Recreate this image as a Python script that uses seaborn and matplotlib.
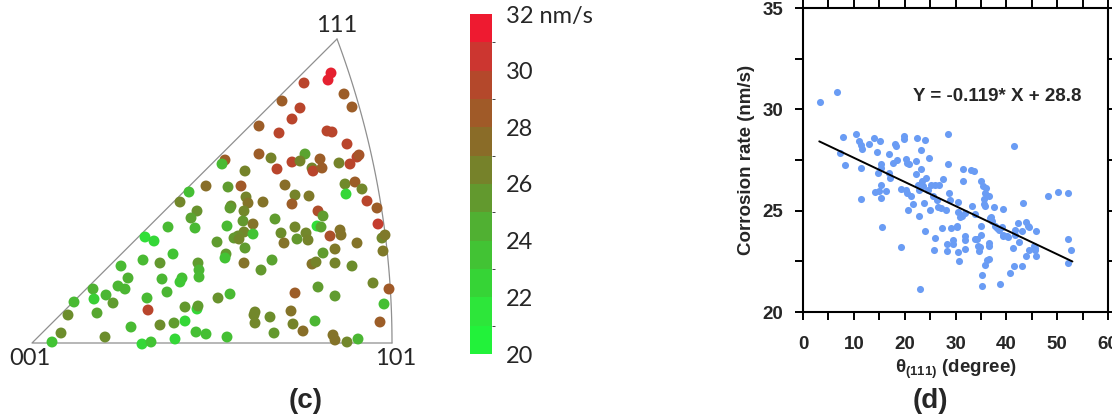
import numpy as np
import seaborn as sns
import matplotlib.pyplot as plt
import matplotlib.ticker as ticker
from matplotlib.colors import ListedColormap, LinearSegmentedColormap, BoundaryNorm
from matplotlib.cm import ScalarMappable

# (c) inverse pole figure: dot position (pixels from the 001 corner) and corrosion rate (nm/s)
ipf_x = [299, 296, 272, 312, 320, 250, 268, 260, 227, 247, 295, 300, 315, 193, 190, 227, 239, 273,
         260, 268, 288, 245, 280, 281, 290, 307, 318, 325, 327, 213, 174, 196, 209, 253, 313, 323,
         314, 330, 157, 148, 165, 159, 163, 214, 216, 199, 198, 212, 231, 263, 277, 260, 335, 345,
         286, 291, 211, 221, 243, 136, 195, 346, 285, 289, 263, 249, 212, 221, 206, 202, 207, 252,
         265, 274, 276, 298, 308, 309, 325, 350, 353, 351, 113, 122, 185, 213, 194, 193, 141, 111,
         128, 166, 167, 167, 212, 240, 229, 291, 303, 280, 284, 303, 320, 89, 96, 86, 93, 130,
         150, 148, 135, 61, 62, 74, 81, 42, 65, 36, 29, 20, 115, 116, 73, 99, 110, 119,
         128, 142, 153, 153, 165, 166, 143, 164, 174, 186, 198, 195, 223, 222, 223, 238, 242, 263,
         259, 261, 271, 283, 286, 303, 301, 303, 315, 326, 341, 357, 352, 348]
ipf_y = [270, 263, 260, 249, 236, 242, 235, 224, 217, 210, 212, 211, 199, 183, 179, 189, 185, 189,
         181, 182, 184, 174, 175, 172, 175, 180, 179, 186, 188, 172, 157, 156, 157, 158, 159, 161,
         149, 154, 151, 141, 132, 125, 115, 146, 140, 137, 135, 132, 141, 148, 147, 139, 142, 135,
         132, 127, 122, 119, 124, 116, 117, 119, 117, 116, 116, 110, 111, 109, 107, 105, 104, 100,
         104, 110, 103, 107, 113, 108, 100, 105, 108, 92, 106, 102, 101, 95, 89, 85, 89, 83,
         80, 80, 73, 66, 80, 83, 73, 90, 94, 79, 81, 80, 77, 77, 65, 57, 54, 64,
         65, 61, 51, 54, 44, 48, 40, 41, 30, 28, 10, 1, 45, 33, 6, 16, -1, 1,
         18, 20, 36, 22, 34, 37, 4, 11, 9, 45, 49, 6, 31, 28, 20, 26, 10, 50,
         32, 19, 12, 22, 56, 47, 8, 3, 1, 4, 60, 54, 39, 21]
ipf_rate = [31.7, 31.7, 30.0, 28.5, 28.5, 28.5, 30.0, 30.0, 28.5, 30.0, 30.0, 30.0, 30.0, 28.5, 23.8, 28.5, 26.5, 25.0,
            30.0, 26.5, 28.5, 30.0, 26.5, 30.0, 28.5, 26.5, 30.0, 30.0, 29.0, 26.5, 27.5, 25.3, 28.8, 27.5, 26.2, 28.5,
            22.0, 26.3, 23.5, 26.3, 25.8, 25.0, 23.8, 26.5, 27.3, 26.0, 25.3, 26.3, 27.3, 26.5, 27.0, 28.5, 30.0, 28.5,
            29.5, 25.3, 25.5, 27.3, 25.3, 23.8, 23.8, 30.5, 21.5, 25.0, 26.3, 26.0, 26.3, 23.3, 26.0, 25.5, 26.3, 27.3,
            25.5, 26.3, 26.5, 29.3, 27.3, 27.3, 27.3, 26.3, 27.0, 27.0, 21.5, 22.0, 25.3, 25.3, 25.3, 23.3, 23.3, 23.8,
            25.5, 25.3, 24.0, 23.8, 27.3, 25.0, 25.5, 25.3, 27.0, 27.3, 26.5, 26.5, 26.0, 23.8, 24.3, 24.0, 24.0, 24.0,
            23.5, 23.0, 24.0, 24.3, 22.5, 24.0, 25.3, 23.8, 24.8, 26.0, 26.0, 23.3, 23.8, 30.0, 26.0, 23.8, 22.0, 23.3,
            26.0, 25.3, 25.5, 22.0, 22.0, 25.3, 22.0, 23.5, 23.5, 25.8, 23.8, 23.5, 26.3, 26.3, 26.3, 26.0, 25.5, 28.5,
            27.3, 26.5, 27.5, 24.0, 25.3, 25.3, 27.3, 27.3, 26.3, 24.0, 26.3, 28.7, 23.5, 28.5]

# triangle corners (pixels from the 001 corner)
v101 = (360, 0)
v111 = (305, 304)

# colour bar
cbar_ticks = [20, 22, 24, 26, 28, 30, 32]
cbar_labels = ['20', '22', '24', '26', '28', '30', '32 nm/s']
band_colors = ['#22f23a', '#2de63a', '#36d436', '#42c334', '#50b032', '#62992e',
               '#76822a', '#8a6c28', '#a05a28', '#b4482b', '#cc3630', '#ee1a30']

# (d) corrosion rate vs angle to <111>
theta = [3.3, 6.7, 7.8, 7.3, 8.3, 10.5, 11.1, 11.4, 11.7, 11.5, 11.5, 12.9, 14.0, 15.1, 14.5, 14.7,
         15.4, 15.4, 14.2, 14.9, 15.4, 15.4, 15.6, 16.3, 17.0, 17.0, 17.1, 17.7, 18.1, 18.3, 18.5, 19.3,
         19.8, 19.9, 19.3, 20.2, 20.3, 20.4, 20.5, 20.6, 20.9, 21.2, 21.6, 22.2, 22.3, 22.4, 22.9, 23.0,
         22.6, 22.8, 23.2, 23.3, 23.4, 23.6, 24.0, 23.8, 24.0, 24.2, 24.5, 24.8, 25.0, 25.2, 25.5, 25.7,
         26.0, 26.0, 26.3, 26.5, 26.8, 27.2, 27.4, 27.6, 28.1, 28.3, 28.3, 28.5, 28.6, 28.8, 28.9, 29.1,
         29.6, 30.2, 30.4, 30.4, 30.5, 30.6, 30.9, 31.3, 31.5, 31.5, 31.9, 31.9, 31.9, 33.0, 33.3, 33.6,
         33.8, 34.3, 34.5, 34.8, 35.0, 35.1, 35.1, 35.2, 35.2, 35.5, 35.6, 35.7, 35.9, 35.9, 35.9, 36.5,
         36.5, 36.5, 36.6, 36.8, 37.1, 37.6, 37.8, 38.2, 38.6, 38.7, 39.3, 39.3, 39.4, 40.2, 40.8, 41.4,
         41.5, 41.7, 41.7, 42.2, 42.4, 43.0, 43.2, 43.0, 43.9, 43.9, 44.3, 44.5, 45.4, 45.6, 45.8, 45.8,
         48.2, 50.2, 52.2, 52.2, 52.2, 52.8, 41.6, 36.0, 33.9, 37.0, 39.1, 40.4, 44.4, 45.7, 36.1, 34.7,
         31.8, 29.5, 30.2]
rate = [30.35, 30.84, 28.62, 27.85, 27.27, 28.78, 28.42, 28.22, 28.04, 27.10, 25.58, 28.31, 28.59, 28.42, 27.88, 26.86,
        27.30, 27.10, 25.90, 25.95, 26.27, 25.64, 24.19, 25.95, 27.81, 26.86, 26.61, 27.35, 28.31, 28.17, 27.52, 26.07,
        28.54, 28.70, 23.20, 26.04, 27.57, 27.35, 25.87, 25.02, 27.30, 25.70, 25.35, 27.47, 26.81, 28.57, 24.75, 21.13,
        26.28, 26.04, 27.98, 27.06, 26.45, 26.20, 28.47, 25.38, 23.98, 26.61, 26.00, 27.60, 25.02, 26.28, 25.71, 23.08,
        23.63, 26.28, 25.54, 25.16, 26.28, 25.13, 24.13, 26.56, 25.02, 23.36, 23.00, 28.80, 27.30, 25.87, 25.54, 24.15,
        23.54, 24.23, 25.41, 24.92, 22.94, 22.53, 24.69, 24.75, 27.06, 26.45, 24.88, 23.77, 23.11, 27.02, 25.21, 26.94,
        23.60, 23.60, 23.24, 23.21, 26.45, 24.23, 23.82, 21.84, 21.30, 26.23, 25.58, 25.35, 25.87, 25.25, 22.34, 23.28,
        23.40, 22.62, 25.74, 24.64, 24.47, 25.18, 24.23, 24.14, 24.03, 21.40, 25.08, 23.82, 23.73, 23.73, 21.92, 23.16,
        22.29, 24.07, 23.82, 24.39, 23.44, 24.00, 25.38, 22.29, 24.43, 22.75, 24.23, 23.04, 23.24, 23.04, 23.98, 22.78,
        25.74, 25.90, 25.87, 23.60, 22.42, 23.08, 28.19, 26.14, 24.84, 24.70, 24.21, 23.72, 24.20, 23.15, 22.59, 23.00,
        23.54, 23.35, 24.20]
fit_slope = -0.119
fit_icpt = 28.8
fit_x = np.array([3.2, 53.0])
fit_text = 'Y = -0.119* X + 28.8'

sns.set_style('ticks')
plt.rcParams['font.family'] = ['Liberation Sans', 'DejaVu Sans']
plt.rcParams['font.weight'] = 'bold'
plt.rcParams['mathtext.fontset'] = 'custom'
plt.rcParams['mathtext.rm'] = 'Liberation Sans:bold'
plt.rcParams['mathtext.bf'] = 'Liberation Sans:bold'

W, H = 1112, 419
fig = plt.figure(figsize=(W / 100, H / 100), dpi=100)


def px_box(l, t, r, b):
    # figure pixel box -> axes rect
    return [l / W, 1 - b / H, (r - l) / W, (b - t) / H]


# ---------- (c) inverse pole figure ----------
ax_c = fig.add_axes(px_box(0, 0, 430, 419))
ax_c.set_xlim(-32, 398)
ax_c.set_ylim(-76, 343)
ax_c.axis('off')

# arc 101-111 (circle centred on the 001-101 line)
cx = (v111[0] ** 2 + v111[1] ** 2 - v101[0] ** 2) / (2 * (v111[0] - v101[0]))
r = v101[0] - cx
t = np.linspace(0, np.arcsin(v111[1] / r), 100)
ax_c.plot(cx + r * np.cos(t), r * np.sin(t), color='#8f8f8f', lw=0.9, zorder=1)
ax_c.plot([v111[0], 0, v101[0]], [v111[1], 0, 0], color='#8f8f8f', lw=0.9, zorder=1)

dot_cmap = LinearSegmentedColormap.from_list('rate', band_colors)
sns.scatterplot(x=ipf_x, y=ipf_y, hue=ipf_rate, palette=dot_cmap, hue_norm=(20, 32),
                s=62, linewidth=0, legend=False, ax=ax_c, zorder=3)

lab_kw = dict(fontfamily='Lato', fontweight='normal', fontsize=17, ha='center', va='center')
ax_c.text(305, 318, '111', **lab_kw)
ax_c.text(-2, -15, '001', **lab_kw)
ax_c.text(364, -15, '101', **lab_kw)

# colour bar
cax = fig.add_axes(px_box(470, 14, 492, 354))
band_norm = BoundaryNorm(np.arange(20, 33, 1), 12)
cb = fig.colorbar(ScalarMappable(norm=band_norm, cmap=ListedColormap(band_colors)), cax=cax,
                  ticks=cbar_ticks)
cb.outline.set_visible(False)
cax.set_yticklabels(cbar_labels, fontfamily='Lato', fontweight='normal', fontsize=17)
cax.tick_params(length=0, pad=10)

# ---------- (d) scatter ----------
ax_d = fig.add_axes(px_box(803, 8, 1108, 312))
sns.scatterplot(x=theta, y=rate, color='#6a9cf4', s=26, linewidth=0, ax=ax_d, zorder=3)
sns.lineplot(x=fit_x, y=fit_slope * fit_x + fit_icpt, color='black', lw=1.4, ax=ax_d, zorder=4)

ax_d.set_xlim(0, 60)
ax_d.set_ylim(20, 35)
ax_d.xaxis.set_major_locator(ticker.MultipleLocator(10))
ax_d.xaxis.set_minor_locator(ticker.MultipleLocator(5))
ax_d.yaxis.set_major_locator(ticker.MultipleLocator(5))
ax_d.yaxis.set_minor_locator(ticker.MultipleLocator(2.5))
ax_d.tick_params(which='both', direction='out', length=6, width=1.4, top=True, right=True,
                 labelsize=13.5, color='black')
ax_d.tick_params(axis='x', pad=11)
ax_d.tick_params(axis='y', pad=8)
for sp in ax_d.spines.values():
    sp.set_linewidth(1.5)
    sp.set_color('black')

ax_d.set_xlabel(r'θ$_{(111)}$ (degree)', fontsize=13.5, fontweight='bold')
ax_d.set_ylabel('Corrosion rate (nm/s)', fontsize=13.5, fontweight='bold')
ax_d.xaxis.set_label_coords(0.5, -0.15)
ax_d.yaxis.set_label_coords(-0.157, 0.5)
ax_d.text(21.7, 30.65, fit_text, ha='left', va='center', fontsize=13.5, fontweight='bold')

fig.text(306 / W, 1 - 401 / H, '(c)', ha='center', va='center', fontsize=20, fontweight='bold')
fig.text(930 / W, 1 - 401 / H, '(d)', ha='center', va='center', fontsize=20, fontweight='bold')

fig.savefig('out.png', dpi=100)
